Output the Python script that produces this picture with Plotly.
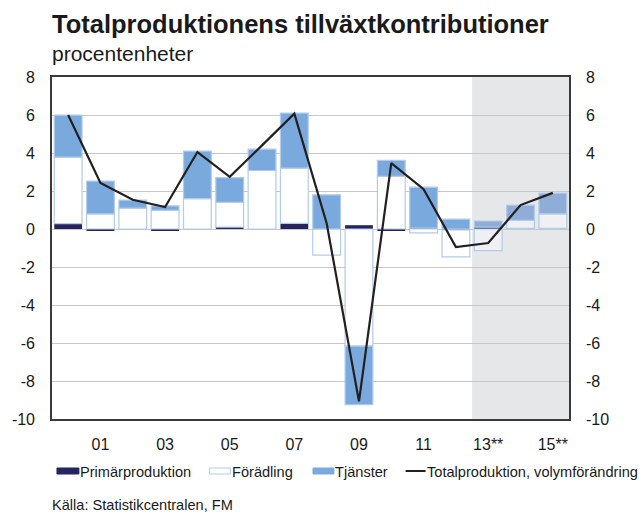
import plotly.graph_objects as go

years = list(range(2000, 2016))
tick_vals = [2001, 2003, 2005, 2007, 2009, 2011, 2013, 2015]
tick_text = ["01", "03", "05", "07", "09", "11", "13**", "15**"]
y_tick_vals = [-10, -8, -6, -4, -2, 0, 2, 4, 6, 8]
y_tick_text = ["-10", "-8", "-6", "-4", "-2", "0", "2", "4", "6", "8"]

primar = [0.28, -0.08, 0.0, -0.1, 0.0, 0.1, 0.0, 0.3, 0.0, 0.2, -0.1, 0.05, -0.05, 0.1, 0.03, 0.03]
foradling = [3.5, 0.8, 1.1, 0.98, 1.6, 1.3, 3.08, 2.9, -1.37, -6.16, 2.77, -0.2, -1.42, -1.14, 0.42, 0.77]
tjanster = [2.21, 1.72, 0.42, 0.24, 2.5, 1.3, 1.12, 2.9, 1.8, -3.09, 0.84, 2.15, 0.52, 0.32, 0.81, 1.09]
total = [6.0, 2.42, 1.54, 1.16, 4.05, 2.75, 4.4, 6.07, 0.3, -9.07, 3.47, 2.1, -0.95, -0.74, 1.26, 1.9]

forecast_start = 2013

FONT = "Liberation Sans, Arial, sans-serif"
NAVY = "#25245f"
LIGHTBLUE = "#7aaadd"
OUTLINE = "#b3cbe9"

def colors(normal, fc):
    return [fc if y >= forecast_start else normal for y in years]

fig = go.Figure()
fig.add_trace(go.Bar(x=years, y=primar, name="Primärproduktion", width=0.86,
                     marker=dict(color=colors(NAVY, "#2f2f6a"), line=dict(width=0)),
                     showlegend=False))
fig.add_trace(go.Bar(x=years, y=foradling, name="Förädling", width=0.86,
                     marker=dict(color=colors("#ffffff", "#eef0f3"),
                                 line=dict(color=OUTLINE, width=1.2)),
                     showlegend=False))
fig.add_trace(go.Bar(x=years, y=tjanster, name="Tjänster", width=0.86,
                     marker=dict(color=colors(LIGHTBLUE, "#8fadd6"),
                                 line=dict(color=OUTLINE, width=1.2)),
                     showlegend=False))
fig.add_trace(go.Scatter(x=years, y=total, name="Totalproduktion, volymförändring",
                         mode="lines", line=dict(color="#231f20", width=2.2),
                         yaxis="y2", showlegend=False))

# forecast shading
fig.add_shape(type="rect", xref="x", yref="paper", x0=forecast_start - 0.5, x1=2015.5,
              y0=0, y1=1, fillcolor="#e6e7e9", line=dict(width=0), layer="below")

L, R, T, B = 50, 74, 77, 93
W, H = 643, 512
pw, ph = W - L - R, H - T - B

def px(xp):
    return (xp - L) / pw

def py(yp):
    return (H - B - yp) / ph

# manual legend
legend_items = [
    ("Primärproduktion", 55, 77, "rect", NAVY, NAVY),
    ("Förädling", 208, 229, "rect", "#ffffff", OUTLINE),
    ("Tjänster", 312, 333, "rect", LIGHTBLUE, LIGHTBLUE),
    ("Totalproduktion, volymförändring", 405, 425, "line", "#231f20", "#231f20"),
]
ly = 471
for label, x0, x1, kind, fill, lc in legend_items:
    if kind == "rect":
        fig.add_shape(type="rect", xref="paper", yref="paper",
                      x0=px(x0), x1=px(x1), y0=py(ly + 3), y1=py(ly - 3),
                      fillcolor=fill, line=dict(color=lc, width=1))
    else:
        fig.add_shape(type="line", xref="paper", yref="paper",
                      x0=px(x0), x1=px(x1), y0=py(ly), y1=py(ly),
                      line=dict(color=lc, width=2))
    fig.add_annotation(text=label, xref="paper", yref="paper", x=px(x1 - 0.5), y=py(ly + 0.5),
                       xanchor="left", yanchor="middle", showarrow=False,
                       font=dict(family=FONT, size=14.6, color="#1a1a1a"))

fig.add_annotation(text="<b>Totalproduktionens tillväxtkontributioner</b>", xref="paper", yref="paper",
                   x=px(48), y=py(24), xanchor="left", yanchor="middle", showarrow=False,
                   font=dict(family=FONT, size=25.5, color="#1a1a1a"))
fig.add_annotation(text="procentenheter", xref="paper", yref="paper",
                   x=px(48), y=py(53), xanchor="left", yanchor="middle", showarrow=False,
                   font=dict(family=FONT, size=21, color="#1a1a1a"))
fig.add_annotation(text="Källa: Statistikcentralen, FM", xref="paper", yref="paper",
                   x=px(48), y=py(504.5), xanchor="left", yanchor="middle", showarrow=False,
                   font=dict(family=FONT, size=14.6, color="#1a1a1a"))

yax = dict(range=[-10, 8], tickmode="array", tickvals=y_tick_vals, ticktext=y_tick_text,
           showgrid=True, gridcolor="#c8c8c8", gridwidth=1,
           zeroline=False, showline=True, linecolor="#3a3a3a", linewidth=1.6,
           ticks="outside", ticklen=12, tickcolor="rgba(0,0,0,0)",
           tickfont=dict(family=FONT, size=16, color="#1a1a1a"), fixedrange=True)

fig.update_layout(
    width=W, height=H,
    margin=dict(l=L, r=R, t=T, b=B, pad=0),
    paper_bgcolor="white", plot_bgcolor="white",
    barmode="relative", bargap=0.14,
    showlegend=False,
    font=dict(family=FONT, color="#1a1a1a"),
    xaxis=dict(range=[1999.5, 2015.5], tickmode="array", tickvals=tick_vals, ticktext=tick_text,
               showgrid=False, zeroline=False, showline=True, mirror=True,
               linecolor="#3a3a3a", linewidth=1.6,
               ticks="outside", ticklen=10, tickcolor="rgba(0,0,0,0)",
               tickfont=dict(family=FONT, size=16, color="#1a1a1a"), fixedrange=True),
    yaxis=yax,
    yaxis2=dict(yax, overlaying="y", side="right", showgrid=False),
)

fig.write_html("out.html", config={"displayModeBar": False},
               post_script="document.body.style.margin='0';document.body.style.overflow='hidden';")
